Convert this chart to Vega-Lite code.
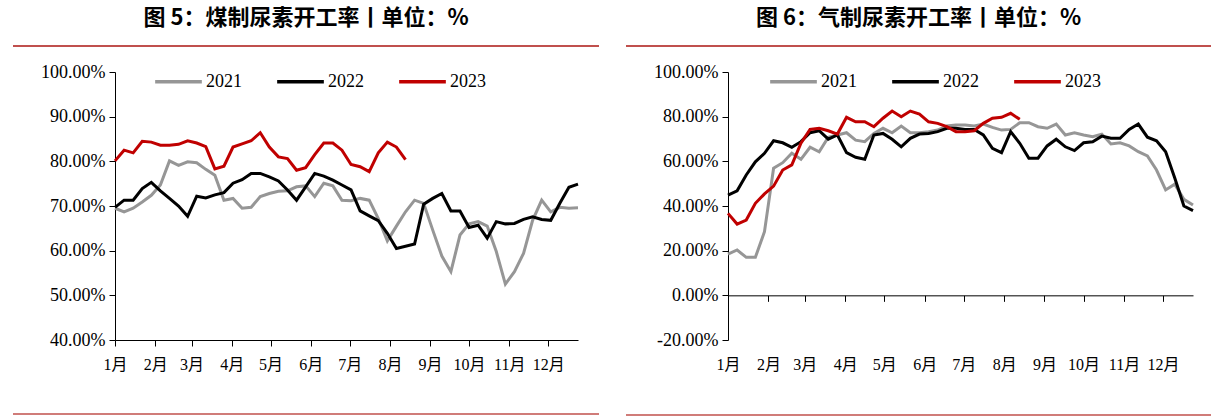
{
  "$schema": "https://vega.github.io/schema/vega-lite/v6.json",
  "background": "white",
  "padding": {"left": 12, "right": 10, "top": 7, "bottom": 0},
  "datasets": {
    "coal": [
      {"w":1,"2021":69.5,"2022":69.7,"2023":80.1},
      {"w":2,"2021":68.7,"2022":71.3,"2023":82.5},
      {"w":3,"2021":69.5,"2022":71.3,"2023":81.9},
      {"w":4,"2021":70.9,"2022":73.9,"2023":84.5},
      {"w":5,"2021":72.4,"2022":75.3,"2023":84.3},
      {"w":6,"2021":74.7,"2022":73.4,"2023":83.6},
      {"w":7,"2021":80.1,"2022":71.7,"2023":83.6},
      {"w":8,"2021":79.1,"2022":70.0,"2023":83.8},
      {"w":9,"2021":79.9,"2022":67.7,"2023":84.6},
      {"w":10,"2021":79.7,"2022":72.2,"2023":84.1},
      {"w":11,"2021":78.2,"2022":71.8,"2023":83.3},
      {"w":12,"2021":76.9,"2022":72.5,"2023":78.3},
      {"w":13,"2021":71.3,"2022":73.0,"2023":78.9},
      {"w":14,"2021":71.7,"2022":75.1,"2023":83.2},
      {"w":15,"2021":69.5,"2022":75.9,"2023":83.9},
      {"w":16,"2021":69.7,"2022":77.3,"2023":84.6},
      {"w":17,"2021":72.1,"2022":77.3,"2023":86.4},
      {"w":18,"2021":72.8,"2022":76.5,"2023":83.2},
      {"w":19,"2021":73.3,"2022":75.6,"2023":81.0},
      {"w":20,"2021":73.4,"2022":73.6,"2023":80.6},
      {"w":21,"2021":74.3,"2022":71.3,"2023":78.0},
      {"w":22,"2021":74.5,"2022":74.3,"2023":78.6},
      {"w":23,"2021":72.1,"2022":77.3,"2023":81.5},
      {"w":24,"2021":75.1,"2022":76.7,"2023":84.1},
      {"w":25,"2021":74.5,"2022":75.8,"2023":84.1},
      {"w":26,"2021":71.3,"2022":74.7,"2023":82.5},
      {"w":27,"2021":71.2,"2022":73.6,"2023":79.3},
      {"w":28,"2021":71.7,"2022":68.9,"2023":78.8},
      {"w":29,"2021":71.3,"2022":67.8,"2023":77.7},
      {"w":30,"2021":67.2,"2022":66.7,"2023":81.9},
      {"w":31,"2021":62.2,"2022":63.9,"2023":84.3},
      {"w":32,"2021":65.5,"2022":60.5,"2023":83.2},
      {"w":33,"2021":68.7,"2022":61.0,"2023":80.4},
      {"w":34,"2021":71.3,"2022":61.5},
      {"w":35,"2021":70.6,"2022":70.4},
      {"w":36,"2021":64.6,"2022":71.7},
      {"w":37,"2021":58.8,"2022":72.8},
      {"w":38,"2021":55.3,"2022":68.9},
      {"w":39,"2021":63.5,"2022":68.9},
      {"w":40,"2021":66.0,"2022":65.2},
      {"w":41,"2021":66.5,"2022":65.7},
      {"w":42,"2021":65.5,"2022":62.8},
      {"w":43,"2021":59.8,"2022":66.5},
      {"w":44,"2021":52.5,"2022":66.0},
      {"w":45,"2021":55.3,"2022":66.1},
      {"w":46,"2021":59.4,"2022":67.0},
      {"w":47,"2021":66.8,"2022":67.6},
      {"w":48,"2021":71.3,"2022":67.0},
      {"w":49,"2021":68.7,"2022":66.8},
      {"w":50,"2021":69.7,"2022":70.6},
      {"w":51,"2021":69.5,"2022":74.2},
      {"w":52,"2021":69.6,"2022":74.9}
    ],
    "gas": [
      {"w":1,"2021":18.5,"2022":44.9,"2023":36.7},
      {"w":2,"2021":20.3,"2022":46.8,"2023":31.9},
      {"w":3,"2021":17.0,"2022":53.9,"2023":33.7},
      {"w":4,"2021":17.0,"2022":59.8,"2023":41.2},
      {"w":5,"2021":28.5,"2022":63.6,"2023":45.4},
      {"w":6,"2021":56.9,"2022":69.2,"2023":48.9},
      {"w":7,"2021":59.4,"2022":68.3,"2023":56.1},
      {"w":8,"2021":63.6,"2022":66.3,"2023":58.4},
      {"w":9,"2021":60.9,"2022":68.8,"2023":68.1},
      {"w":10,"2021":66.3,"2022":72.8,"2023":74.3},
      {"w":11,"2021":64.3,"2022":73.7,"2023":74.8},
      {"w":12,"2021":70.8,"2022":69.9,"2023":73.7},
      {"w":13,"2021":71.8,"2022":71.8,"2023":72.2},
      {"w":14,"2021":72.8,"2022":63.9,"2023":79.7},
      {"w":15,"2021":69.5,"2022":61.8,"2023":77.7},
      {"w":16,"2021":68.8,"2022":60.9,"2023":77.7},
      {"w":17,"2021":72.5,"2022":71.8,"2023":75.5},
      {"w":18,"2021":74.8,"2022":72.5,"2023":79.3},
      {"w":19,"2021":72.8,"2022":69.9,"2023":82.5},
      {"w":20,"2021":75.8,"2022":66.5,"2023":80.0},
      {"w":21,"2021":72.8,"2022":70.3,"2023":82.5},
      {"w":22,"2021":72.8,"2022":72.2,"2023":81.2},
      {"w":23,"2021":73.3,"2022":72.5,"2023":77.7},
      {"w":24,"2021":74.0,"2022":73.3,"2023":77.0},
      {"w":25,"2021":75.8,"2022":74.8,"2023":75.5},
      {"w":26,"2021":76.3,"2022":74.8,"2023":73.3},
      {"w":27,"2021":76.3,"2022":74.3,"2023":73.3},
      {"w":28,"2021":75.8,"2022":74.3,"2023":73.7},
      {"w":29,"2021":76.7,"2022":71.8,"2023":77.0},
      {"w":30,"2021":75.2,"2022":65.8,"2023":79.3},
      {"w":31,"2021":74.0,"2022":63.9,"2023":79.7},
      {"w":32,"2021":74.3,"2022":73.3,"2023":81.5},
      {"w":33,"2021":77.3,"2022":68.1,"2023":78.8},
      {"w":34,"2021":77.3,"2022":61.4},
      {"w":35,"2021":75.5,"2022":61.4},
      {"w":36,"2021":74.8,"2022":66.9},
      {"w":37,"2021":76.7,"2022":69.9},
      {"w":38,"2021":71.8,"2022":66.5},
      {"w":39,"2021":72.8,"2022":64.8},
      {"w":40,"2021":71.8,"2022":68.3},
      {"w":41,"2021":71.0,"2022":68.8},
      {"w":42,"2021":72.2,"2022":71.3},
      {"w":43,"2021":67.8,"2022":70.3},
      {"w":44,"2021":68.3,"2022":70.3},
      {"w":45,"2021":66.9,"2022":74.3},
      {"w":46,"2021":64.3,"2022":76.7},
      {"w":47,"2021":62.4,"2022":70.8},
      {"w":48,"2021":56.1,"2022":69.2},
      {"w":49,"2021":47.2,"2022":64.3},
      {"w":50,"2021":49.8,"2022":52.5},
      {"w":51,"2021":43.0,"2022":40.0},
      {"w":52,"2021":40.4,"2022":37.9}
    ]
  },
  "config": {
    "view": {"stroke": null},
    "axis": {"grid": false, "domainColor": "#000000", "tickColor": "#000000", "labelColor": "#000000", "labelFont": "Liberation Serif, Noto Sans CJK SC", "domainWidth": 1, "tickWidth": 1},
    "title": {"font": "Noto Sans CJK SC", "fontSize": 22, "fontWeight": "bold", "color": "#000000", "anchor": "middle", "offset": 15}
  },
  "resolve": {"scale": {"color": "independent"}, "legend": {"color": "independent"}},
  "spacing": 25,
  "hconcat": [
    {
      "spacing": 16,
      "vconcat": [
        {
          "title": "图 5：煤制尿素开工率丨单位：%",
          "width": 586, "height": 1,
          "data": {"values": [{}]},
          "mark": {"type": "rule", "color": "#C0504D", "strokeWidth": 2},
          "encoding": {"y": {"datum": 0, "scale": {"domain": [0, 1]}, "axis": null}}
        },
        {
          "spacing": 0,
          "hconcat": [
            {
              "width": 1, "height": 268,
              "data": {"values": [{}]},
              "mark": {"type": "rule", "opacity": 0},
              "encoding": {"y": {"datum": 0, "scale": {"domain": [0, 1]}, "axis": null}}
            },
            {
              "width": 463, "height": 268,
              "data": {"name": "coal"},
              "transform": [{"fold": ["2021", "2022", "2023"], "as": ["year", "rate"]}],
              "mark": {"type": "line", "strokeWidth": 3},
              "encoding": {
                "x": {"field": "w", "type": "quantitative", "scale": {"domain": [1, 52], "nice": false, "zero": false},
                  "axis": {"title": null, "values": [1, 5.43, 9.43, 13.86, 18.14, 22.57, 26.86, 31.29, 35.71, 40, 44.43, 48.71], "labelExpr": "(round((datum.value-1)*7/30.4)+1) + '月'", "tickSize": 6, "labelPadding": 10, "labelFontSize": 16, "labelFlush": false, "labelOverlap": false}},
                "y": {"field": "rate", "type": "quantitative", "scale": {"domain": [40, 100], "nice": false, "zero": false},
                  "axis": {"title": null, "values": [40, 50, 60, 70, 80, 90, 100], "labelExpr": "replace(format(datum.value, '.2f'), '−', '-') + '%'", "tickSize": 6, "labelPadding": 4, "labelFontSize": 18, "minExtent": 101}},
                "color": {"field": "year", "type": "nominal", "scale": {"domain": ["2021", "2022", "2023"], "range": ["#969696", "#000000", "#C00000"]},
                  "legend": {"orient": "none", "legendX": 140, "legendY": 11, "direction": "horizontal", "title": null, "symbolType": "stroke", "symbolSize": 2180, "symbolStrokeWidth": 3.5, "labelFont": "Liberation Serif", "labelFontSize": 18, "labelColor": "#000000", "labelOffset": 2, "columnPadding": 28, "padding": 0}}
              }
            }
          ]
        },
        {
          "width": 586, "height": 26,
          "data": {"values": [{}]},
          "mark": {"type": "rule", "color": "#C0504D", "strokeWidth": 1.5},
          "encoding": {"y": {"datum": 0, "scale": {"domain": [0, 1]}, "axis": null}}
        }
      ]
    },
    {
      "spacing": 16,
      "vconcat": [
        {
          "title": "图 6：气制尿素开工率丨单位：%",
          "width": 585, "height": 1,
          "data": {"values": [{}]},
          "mark": {"type": "rule", "color": "#C0504D", "strokeWidth": 2},
          "encoding": {"y": {"datum": 0, "scale": {"domain": [0, 1]}, "axis": null}}
        },
        {
          "spacing": 0,
          "hconcat": [
            {
              "width": 1, "height": 268,
              "data": {"values": [{}]},
              "mark": {"type": "rule", "opacity": 0},
              "encoding": {"y": {"datum": 0, "scale": {"domain": [0, 1]}, "axis": null}}
            },
            {
              "width": 465, "height": 268,
              "data": {"name": "gas"},
              "transform": [{"fold": ["2021", "2022", "2023"], "as": ["year", "rate"]}],
              "mark": {"type": "line", "strokeWidth": 3},
              "encoding": {
                "x": {"field": "w", "type": "quantitative", "scale": {"domain": [1, 52], "nice": false, "zero": false},
                  "axis": {"title": null, "values": [1, 5.43, 9.43, 13.86, 18.14, 22.57, 26.86, 31.29, 35.71, 40, 44.43, 48.71], "labelExpr": "(round((datum.value-1)*7/30.4)+1) + '月'", "tickSize": 6, "offset": -44.67, "labelPadding": 54.7, "labelFontSize": 16, "labelFlush": false, "labelOverlap": false}},
                "y": {"field": "rate", "type": "quantitative", "scale": {"domain": [-20, 100], "nice": false, "zero": false},
                  "axis": {"title": null, "values": [-20, 0, 20, 40, 60, 80, 100], "labelExpr": "replace(format(datum.value, '.2f'), '−', '-') + '%'", "tickSize": 6, "labelPadding": 4, "labelFontSize": 18, "minExtent": 101}},
                "color": {"field": "year", "type": "nominal", "scale": {"domain": ["2021", "2022", "2023"], "range": ["#969696", "#000000", "#C00000"]},
                  "legend": {"orient": "none", "legendX": 142, "legendY": 11, "direction": "horizontal", "title": null, "symbolType": "stroke", "symbolSize": 2180, "symbolStrokeWidth": 3.5, "labelFont": "Liberation Serif", "labelFontSize": 18, "labelColor": "#000000", "labelOffset": 2, "columnPadding": 28, "padding": 0}}
              }
            }
          ]
        },
        {
          "width": 585, "height": 26,
          "data": {"values": [{}]},
          "mark": {"type": "rule", "color": "#C0504D", "strokeWidth": 1.5},
          "encoding": {"y": {"datum": 0, "scale": {"domain": [0, 1]}, "axis": null}}
        }
      ]
    }
  ]
}
